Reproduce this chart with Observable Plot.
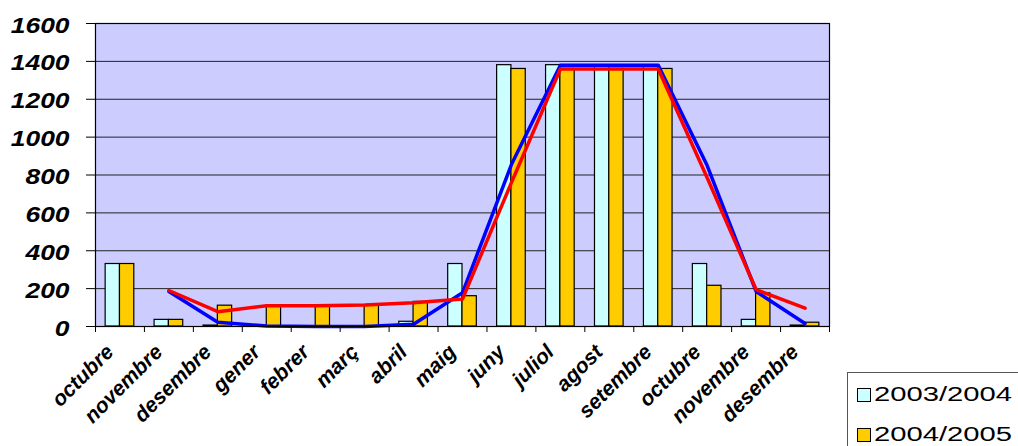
<!DOCTYPE html>
<html>
<head>
<meta charset="utf-8">
<script src="https://cdn.jsdelivr.net/npm/d3@7"></script>
<script src="https://cdn.jsdelivr.net/npm/@observablehq/plot@0.6"></script>
<style>
  html, body { margin: 0; padding: 0; background: #fff; }
  #wrap { position: relative; width: 1018px; height: 446px; overflow: hidden; font-family: "Liberation Sans", Arial, sans-serif; }
  #legend { position: absolute; left: 847px; top: 372px; width: 200px; height: 100px; border-left: 1px solid #555; border-top: 1px solid #555; box-sizing: border-box; }
  .item { position: absolute; left: 9px; height: 20px; }
  .sw { position: absolute; left: 0; width: 12px; height: 12px; border: 1px solid #000; }
  .lab { position: absolute; left: 17px; top: -4px; font-size: 20px; line-height: 20px; white-space: nowrap; transform: scaleX(1.46); transform-origin: left center; color: #000; }
</style>
</head>
<body>
<div id="wrap"></div>
<script>
const months = ["octubre","novembre","desembre","gener","febrer","març","abril","maig","juny","juliol","agost","setembre","octubre","novembre","desembre"];
const series2003 = [330, 35, 5, 0, 0, 0, 25, 330, 1380, 1380, 1380, 1380, 330, 35, 5];
const series2004 = [330, 35, 110, 110, 110, 112, 130, 160, 1360, 1360, 1360, 1360, 215, 175, 20];
const trend2003 = [null, 185, 22, 3, 0, 0, 12, 178, 855, 1380, 1380, 1380, 850, 185, 16];
const trend2004 = [null, 190, 78, 110, 110, 114, 125, 145, 760, 1360, 1360, 1360, 785, 195, 97];
const yTicks = [0, 200, 400, 600, 800, 1000, 1200, 1400, 1600];
const seriesNames = ["2003/2004", "2004/2005"];
const colors = ["#CCFFFF", "#FFCC00"];

const idx = months.map((m, i) => i);
const half = 0.2925;
const bars = [];
idx.forEach(i => {
  bars.push({i, v: series2003[i], s: 0});
  bars.push({i, v: series2004[i], s: 1});
});
const trendA = idx.map(i => ({i, v: trend2003[i]})).filter(d => d.v != null);
const trendB = idx.map(i => ({i, v: trend2004[i]})).filter(d => d.v != null);

const chart = Plot.plot({
  width: 1018,
  height: 446,
  marginLeft: 95,
  marginRight: 189,
  marginTop: 23,
  marginBottom: 120,
  style: {background: "transparent", fontFamily: "Liberation Sans, Arial, sans-serif"},
  x: {type: "linear", domain: [0, months.length], axis: null},
  y: {domain: [0, 1600], axis: null},
  marks: [
    Plot.frame({fill: "#CCCCFF", stroke: "none"}),
    Plot.ruleY(yTicks.filter(t => t > 0 && t < 1600), {stroke: "#222", strokeWidth: 1}),
    Plot.rectY(bars, {
      x1: d => d.i + 0.5 - (d.s === 0 ? half : 0),
      x2: d => d.i + 0.5 + (d.s === 0 ? 0 : half),
      y1: 0,
      y2: "v",
      fill: d => colors[d.s],
      stroke: "#000",
      strokeWidth: 1.2
    }),
    Plot.line(trendA, {x: d => d.i + 0.5, y: "v", stroke: "#0000FF", strokeWidth: 3.5}),
    Plot.line(trendB, {x: d => d.i + 0.5, y: "v", stroke: "#FF0000", strokeWidth: 3.5}),
    Plot.frame({stroke: "#000", strokeWidth: 1.2}),
    Plot.axisY(yTicks, {tickSize: 9, tickFormat: () => "", label: null, color: "#000"}),
    Plot.text(yTicks, {
      x: 0,
      y: d => d,
      text: d => String(d),
      textAnchor: "end",
      lineAnchor: "middle",
      dx: -26,
      dy: 2,
      fontSize: 22,
      fontWeight: "bold",
      fontStyle: "italic",
      fill: "#000"
    }),
    Plot.axisX(d3.range(months.length + 1), {tickSize: 6, tickFormat: () => "", label: null, color: "#000"}),
    Plot.text(idx, {
      x: i => i + 0.5,
      y: 0,
      text: i => months[i],
      rotate: -45,
      textAnchor: "end",
      lineAnchor: "middle",
      dx: -10,
      dy: 22,
      fontSize: 21,
      fontWeight: "bold",
      fontStyle: "italic",
      fill: "#000"
    })
  ]
});

// y tick labels stretched horizontally like the reference
const textGroups = chart.querySelectorAll('g[aria-label="text"]');
if (textGroups.length) {
  textGroups[0].querySelectorAll("text").forEach(t => {
    const tr = t.getAttribute("transform");
    if (tr) {
      t.setAttribute("transform", tr + " scale(1.2,1)");
    } else {
      const x = t.getAttribute("x") || 0, y = t.getAttribute("y") || 0;
      t.removeAttribute("x"); t.removeAttribute("y");
      t.setAttribute("transform", `translate(${x},${y}) scale(1.2,1)`);
    }
  });
}

const wrap = document.getElementById("wrap");
wrap.appendChild(chart);

const legend = document.createElement("div");
legend.id = "legend";
seriesNames.forEach((name, k) => {
  const item = document.createElement("div");
  item.className = "item";
  item.style.top = (15 + k * 40) + "px";
  const sw = document.createElement("div");
  sw.className = "sw";
  sw.style.background = colors[k];
  const lab = document.createElement("div");
  lab.className = "lab";
  lab.textContent = name;
  item.appendChild(sw);
  item.appendChild(lab);
  legend.appendChild(item);
});
wrap.appendChild(legend);
</script>
</body>
</html>
